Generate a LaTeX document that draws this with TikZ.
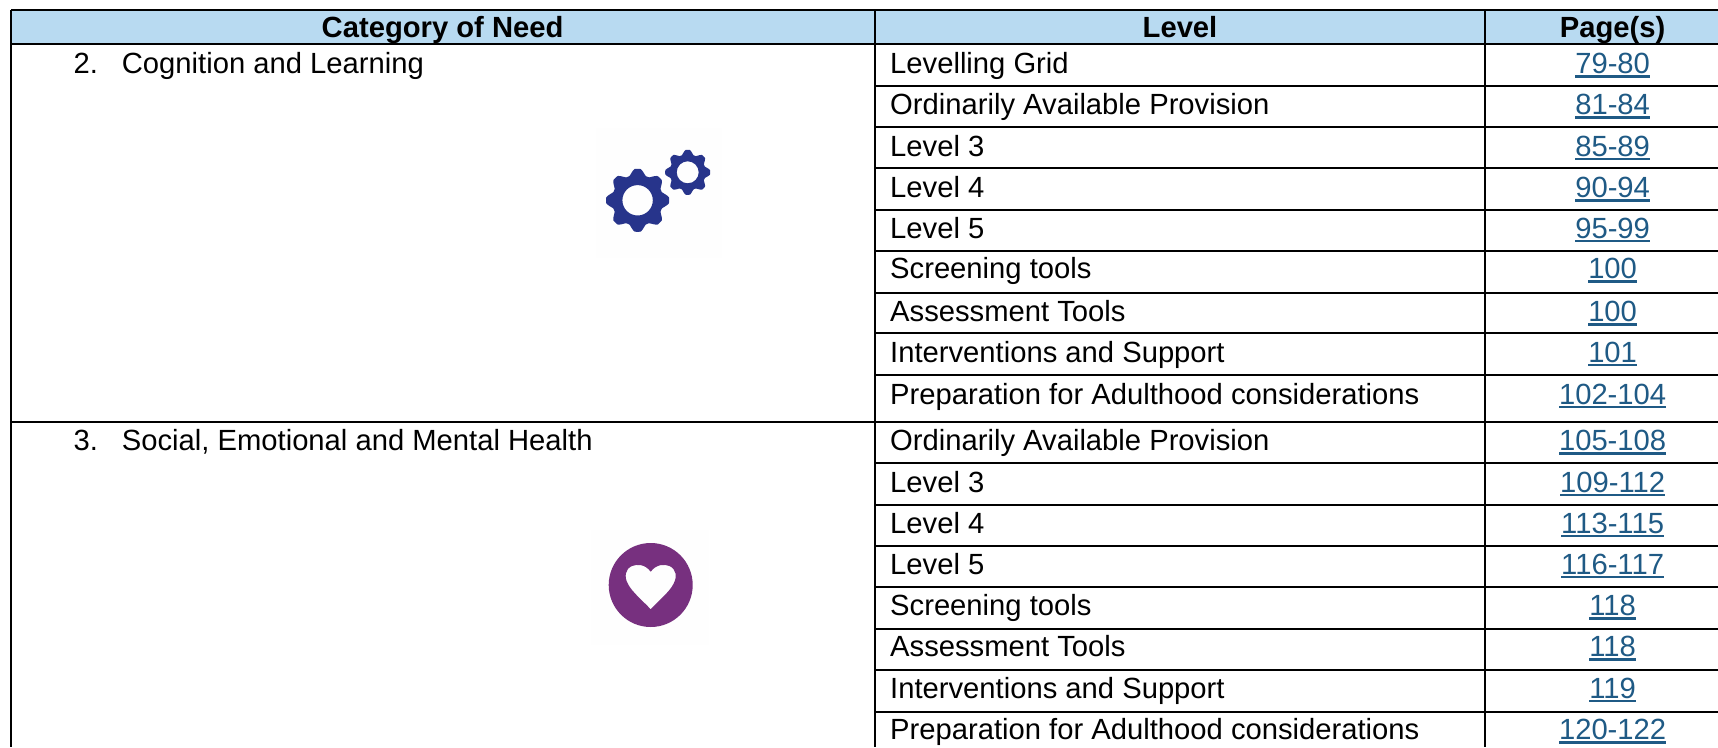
\documentclass[tikz,border=0pt]{standalone}
\usepackage{fontspec}
\setmainfont{Liberation Sans}
\definecolor{headblue}{HTML}{B8DAF1}
\definecolor{linkblue}{HTML}{1F5A85}
\definecolor{gearblue}{HTML}{27348B}
\definecolor{heartpurple}{HTML}{77307F}
\definecolor{offwhite}{HTML}{FEFEFE}
\newcommand\lnk[1]{\setbox0\hbox{#1}\rlap{\rule[-4.2pt]{\wd0}{2.6pt}}\box0}
\newcommand\gearicon[6]{% cx cy outer root hole rot
  \fill[gearblue,even odd rule] plot[domain=0:359,samples=180,smooth cycle]
    ({#1+(#4+(#3-#4)*min(1,max(0,0.55+0.62*cos(8*(\x-#6)))))*cos(\x)},
     {#2+(#4+(#3-#4)*min(1,max(0,0.55+0.62*cos(8*(\x-#6)))))*sin(\x)})
    (#1,#2) circle[radius=#5];}
\tikzset{
  x=1pt,y=-1pt,
  txt/.style={anchor=base west,inner sep=0pt,font=\fontsize{29.2}{32}\selectfont},
  lnktxt/.style={anchor=base,inner sep=0pt,text=linkblue,font=\fontsize{29.2}{32}\selectfont},
  headtxt/.style={anchor=base,inner sep=0pt,font=\fontsize{29.2}{32}\selectfont\bfseries},
  rulelin/.style={line width=2.3pt,black}
}
\begin{document}
\begin{tikzpicture}
\useasboundingbox (0,0) rectangle (1718,747);
\fill[white] (0,0) rectangle (1718,747);
\fill[headblue] (11,10) rectangle (1718,44);
% icon backgrounds
\fill[offwhite] (596,128) rectangle (722,258);
\fill[offwhite] (591,530) rectangle (709,645);
% rules
\foreach \y in {10,44,421.7}{\draw[rulelin] (11,\y) -- (1718,\y);}
\foreach \y in {85.7,126.7,168.3,210,250.7,292.7,333.3,375.3,463.3,504.7,545.7,586.7,628.7,669.7,711.7}{\draw[rulelin] (875,\y) -- (1718,\y);}
\foreach \x in {11,875,1485}{\draw[rulelin] (\x,10) -- (\x,747);}
% header
\node[headtxt] (h1) at (442.6,37.7) {Category of Need};
\node[headtxt] (h2) at (1180,37.7) {Level};
\node[headtxt] (h3) at (1612.6,37.7) {Page(s)};
% categories
\node[txt] (c2n) at (73.5,73.5) {2.};
\node[txt] (c2) at (121.7,73.5) {Cognition and Learning};
\node[txt] (c3n) at (73.5,450.8) {3.};
\node[txt] (c3) at (121.7,450.8) {Social, Emotional and Mental Health};
% rows
\foreach \n/\y/\t/\p in {
 a/73.5/Levelling Grid/79-80,
 b/114.8/Ordinarily Available Provision/81-84,
 c/156.1/Level 3/85-89,
 d/197.5/Level 4/90-94,
 e/238.1/Level 5/95-99,
 f/278.8/Screening tools/100,
 g/321.5/Assessment Tools/100,
 h/362.1/Interventions and Support/101,
 i/404.1/Preparation for Adulthood considerations/102-104,
 j/450.8/Ordinarily Available Provision/105-108,
 k/492.1/Level 3/109-112,
 l/533.1/Level 4/113-115,
 m/574.1/Level 5/116-117,
 n/615.5/Screening tools/118,
 o/656.8/Assessment Tools/118,
 q/698.1/Interventions and Support/119,
 r/739.5/Preparation for Adulthood considerations/120-122}{
  \node[txt] (lev\n) at (890,\y) {\t};
  \node[lnktxt] (pg\n) at (1612.6,\y) {\lnk{\p}};
}
% gears
\gearicon{637.6}{200.3}{31.5}{25.5}{15.2}{0}
\gearicon{687.7}{172.3}{22.5}{18}{11}{0}
% heart
\fill[heartpurple,even odd rule] (650.7,585) circle[radius=42]
  (650.7,571.7) .. controls (645,564) and (637,564) .. (632,566)
  .. controls (625,569) and (624,577) .. (628,584)
  .. controls (632,592) and (643,601) .. (650.7,609.3)
  .. controls (658.4,601) and (669.4,592) .. (673.4,584)
  .. controls (677.4,577) and (676.4,569) .. (669.4,566)
  .. controls (664.4,564) and (656.4,564) .. (650.7,571.7) -- cycle;
\end{tikzpicture}
\end{document}
